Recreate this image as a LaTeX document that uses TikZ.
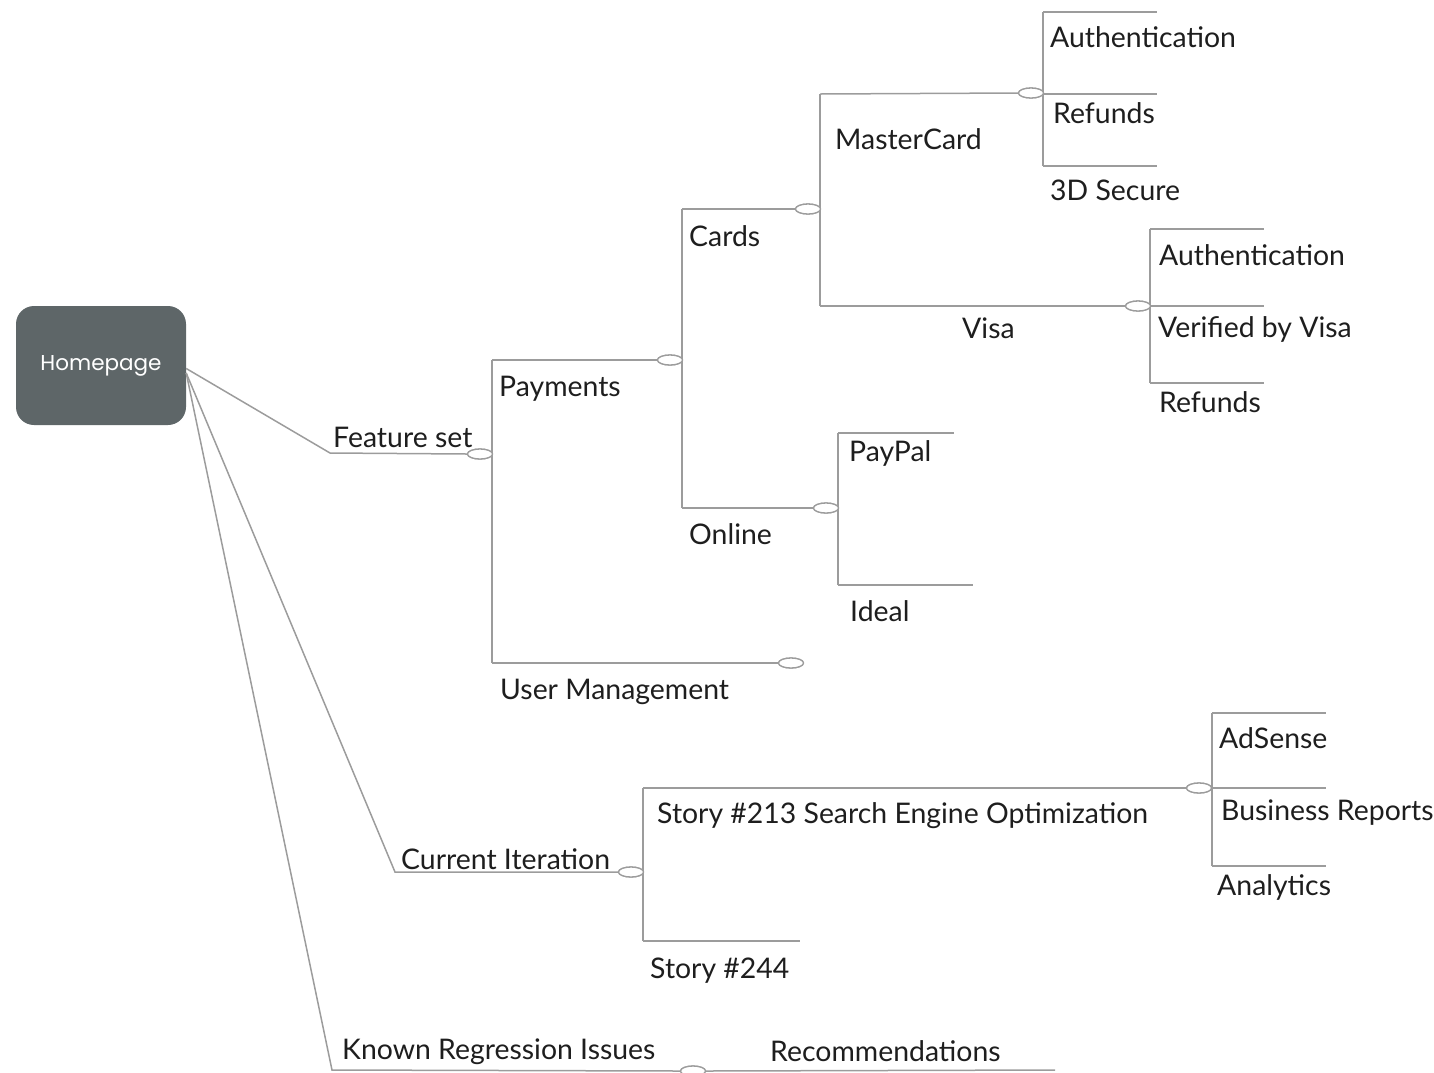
\documentclass[tikz,border=0pt]{standalone}
\usepackage{fontspec}
\setmainfont{Lato}
\newfontfamily\popfont{Poppins}
\usetikzlibrary{shapes.geometric}
\definecolor{linegrey}{HTML}{9C9C9C}
\definecolor{homefill}{HTML}{5E6668}
\definecolor{labelink}{HTML}{1E1E1E}
\begin{document}
\begin{tikzpicture}[x=1pt,y=-1pt,
  branch/.style={draw=linegrey,line width=1.5pt},
  knob/.style={ellipse,draw=linegrey,line width=1.3pt,fill=white,minimum width=25pt,minimum height=10pt,inner sep=0pt},
  lbl/.style={anchor=base west,inner sep=0pt,font=\fontsize{28.4}{31}\selectfont,text=labelink},
  home/.style={rectangle,rounded corners=18pt,fill=homefill,text=white,minimum width=170pt,minimum height=119pt,inner sep=0pt,font=\popfont\fontsize{21.5}{24}\selectfont}]
\useasboundingbox (0,0) rectangle (1434,1072);

% root
\node[home] (home) at (101,365.5) {\raisebox{-1pt}{Homepage}};

% junction knobs
\node[knob] (kFS) at (480,454) {};
\node[knob] (kPay) at (670,360) {};
\node[knob] (kUM) at (791,663) {};
\node[knob] (kCards) at (808,209) {};
\node[knob] (kOnline) at (826,508) {};
\node[knob] (kMC) at (1031,93) {};
\node[knob] (kVisa) at (1138,306) {};
\node[knob] (kCI) at (631,872) {};
\node[knob] (kS213) at (1199,788) {};
\node[knob] (kKR) at (693,1071) {};

% coordinates
\coordinate (fsL) at (330,453);
\coordinate (ciL) at (395,872);
\coordinate (krL) at (332,1070);
\coordinate (krR) at (1055,1070);
\coordinate (vFSt) at (492,360);
\coordinate (vFSb) at (492,663);
\coordinate (vPt) at (682,209);
\coordinate (vPb) at (682,508);
\coordinate (vCt) at (820,94);
\coordinate (vCb) at (820,306);
\coordinate (mc1) at (1043,12);
\coordinate (mc2) at (1043,94);
\coordinate (mc3) at (1043,166);
\coordinate (mc1e) at (1157,12);
\coordinate (mc2e) at (1157,94);
\coordinate (mc3e) at (1157,166);
\coordinate (vi1) at (1150,229);
\coordinate (vi2) at (1150,306);
\coordinate (vi3) at (1150,383);
\coordinate (vi1e) at (1264,229);
\coordinate (vi2e) at (1264,306);
\coordinate (vi3e) at (1264,383);
\coordinate (on1) at (838,433);
\coordinate (on2) at (838,585);
\coordinate (on1e) at (954,433);
\coordinate (on2e) at (973,585);
\coordinate (vCIt) at (643,788);
\coordinate (vCIb) at (643,941);
\coordinate (s244e) at (800,941);
\coordinate (st1) at (1212,713);
\coordinate (st2) at (1212,788);
\coordinate (st3) at (1212,866);
\coordinate (st1e) at (1326,713);
\coordinate (st2e) at (1326,788);
\coordinate (st3e) at (1326,866);

% connectors
\draw[branch] (home.-2) -- (fsL) -- (kFS.west);
\draw[branch] (home.-5) -- (ciL) -- (kCI.west);
\draw[branch] (home.-5) -- (krL) -- (kKR.west);
\draw[branch] (kKR.east) -- (krR);
\draw[branch] (vFSt) -- (vFSb);
\draw[branch] (vFSt) -- (kPay.west);
\draw[branch] (vFSb) -- (kUM.west);
\draw[branch] (vPt) -- (vPb);
\draw[branch] (vPt) -- (kCards.west);
\draw[branch] (vPb) -- (kOnline.west);
\draw[branch] (vCt) -- (vCb);
\draw[branch] (vCt) -- (kMC.west);
\draw[branch] (vCb) -- (kVisa.west);
\draw[branch] (mc1) -- (mc3);
\draw[branch] (mc1) -- (mc1e);
\draw[branch] (mc2) -- (mc2e);
\draw[branch] (mc3) -- (mc3e);
\draw[branch] (vi1) -- (vi3);
\draw[branch] (vi1) -- (vi1e);
\draw[branch] (vi2) -- (vi2e);
\draw[branch] (vi3) -- (vi3e);
\draw[branch] (on1) -- (on2);
\draw[branch] (on1) -- (on1e);
\draw[branch] (on2) -- (on2e);
\draw[branch] (vCIt) -- (vCIb);
\draw[branch] (vCIt) -- (kS213.west);
\draw[branch] (vCIb) -- (s244e);
\draw[branch] (st1) -- (st3);
\draw[branch] (st1) -- (st1e);
\draw[branch] (st2) -- (st2e);
\draw[branch] (st3) -- (st3e);

% redraw knobs on top
\foreach \k in {kFS,kPay,kUM,kCards,kOnline,kMC,kVisa,kCI,kS213,kKR}
  \node[knob] at (\k) {};

% labels
\node[lbl] (tAuth1) at (1050,47) {Authentication};
\node[lbl] (tRef1) at (1053,123) {Refunds};
\node[lbl] (t3D) at (1050,200) {3D Secure};
\node[lbl] (tMC) at (835,149) {MasterCard};
\node[lbl] (tCards) at (689,246) {Cards};
\node[lbl] (tAuth2) at (1159,265) {Authentication};
\node[lbl] (tVbV) at (1158,337) {Verified by Visa};
\node[lbl] (tVisa) at (962,338) {Visa};
\node[lbl] (tRef2) at (1159,412) {Refunds};
\node[lbl] (tPay) at (499,396) {Payments};
\node[lbl] (tFS) at (333,447) {Feature set};
\node[lbl] (tPayPal) at (849,461) {PayPal};
\node[lbl] (tOnline) at (689,544) {Online};
\node[lbl] (tIdeal) at (850,621) {Ideal};
\node[lbl] (tUM) at (500,699) {User Management};
\node[lbl] (tAd) at (1219,748) {AdSense};
\node[lbl] (tS213) at (657,823) {Story \#213 Search Engine Optimization};
\node[lbl] (tBR) at (1221,820) {Business Reports};
\node[lbl] (tCI) at (401,869) {Current Iteration};
\node[lbl] (tAn) at (1217,895) {Analytics};
\node[lbl] (tS244) at (650,978) {Story \#244};
\node[lbl] (tKR) at (342,1059) {Known Regression Issues};
\node[lbl] (tRec) at (770,1061) {Recommendations};
\end{tikzpicture}
\end{document}
